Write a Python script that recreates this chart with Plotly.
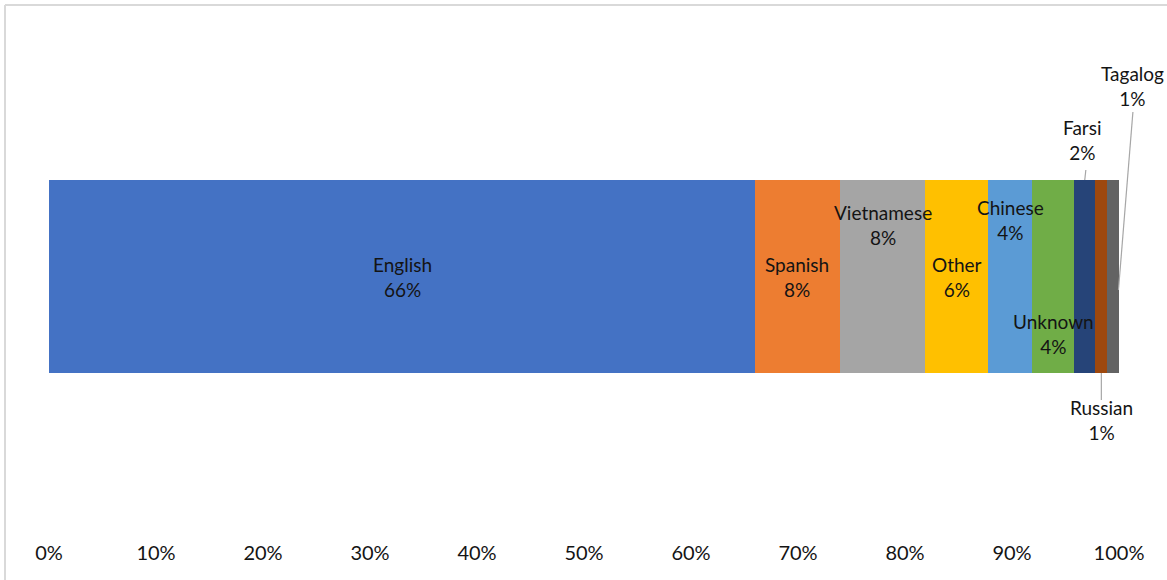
import plotly.graph_objects as go

languages = ["English", "Spanish", "Vietnamese", "Other", "Chinese", "Unknown", "Farsi", "Russian", "Tagalog"]
shares = [0.660, 0.079, 0.080, 0.059, 0.041, 0.039, 0.020, 0.011, 0.011]
pct_labels = ["66%", "8%", "8%", "6%", "4%", "4%", "2%", "1%", "1%"]
colors = ["#4472C4", "#ED7D31", "#A5A5A5", "#FFC000", "#5B9BD5",
          "#70AD47", "#264478", "#9E480E", "#636363"]

# vertical shift (px) of each label relative to the bar middle
label_shift = [0, 0, 52, 0, 57, -57, 0, 0, 0]

W, H = 1167, 580
ML, MR, MT, MB = 49, 48, 14, 41
plot_h = H - MT - MB
bar_w = 193 / plot_h
font = dict(family="Lato, Carlito, Calibri, sans-serif", size=19, color="#141414")
tick_font = dict(family="Lato, Carlito, Calibri, sans-serif", size=20, color="#141414")

fig = go.Figure()
for lang, val, col in zip(languages, shares, colors):
    fig.add_trace(go.Bar(
        x=[val], y=[0], orientation="h", name=lang,
        marker=dict(color=col, line=dict(width=0)),
        width=bar_w, hoverinfo="name+x",
    ))

annotations = []
shapes = []
start = 0
mids = []
for val in shares:
    mids.append(start + val / 2)
    start += val

px = 1 / plot_h
for i, lang in enumerate(languages):
    txt = lang + "<br>" + pct_labels[i]
    if lang in ("Farsi", "Russian", "Tagalog"):
        continue
    annotations.append(dict(x=mids[i], y=0, xref="x", yref="y", text=txt,
                            xanchor="center", yanchor="middle",
                            showarrow=False, yshift=label_shift[i], font=font))

top = 0.5 + bar_w / 2
bot = 0.5 - bar_w / 2
leader = dict(color="#A6A6A6", width=1.2)

# Farsi label above with leader
fi = languages.index("Farsi")
annotations.append(dict(x=mids[fi] - 0.002, y=top + 40 * px, xref="paper", yref="paper",
                        xanchor="center", yanchor="middle",
                        text="Farsi<br>" + pct_labels[fi], showarrow=False, font=font))
shapes.append(dict(type="line", xref="paper", yref="paper",
                   x0=mids[fi], x1=mids[fi] + 0.001, y0=top, y1=top + 10 * px, line=leader))
# Russian label below
ri = languages.index("Russian")
annotations.append(dict(x=mids[ri], y=bot - 47 * px, xref="paper", yref="paper",
                        xanchor="center", yanchor="middle",
                        text="Russian<br>" + pct_labels[ri], showarrow=False, font=font))
shapes.append(dict(type="line", xref="paper", yref="paper",
                   x0=mids[ri], x1=mids[ri], y0=bot, y1=bot - 27 * px, line=leader))
# Tagalog label top right
ti = languages.index("Tagalog")
annotations.append(dict(x=mids[ti] + 0.0185, y=top + 94 * px, xref="paper", yref="paper",
                        xanchor="center", yanchor="middle",
                        text="Tagalog<br>" + pct_labels[ti], showarrow=False, font=font))
shapes.append(dict(type="line", xref="paper", yref="paper",
                   x0=mids[ti] + 0.005, x1=mids[ti] + 0.0185,
                   y0=0.5 - 13.5 * px, y1=top + 68 * px, line=leader))

# chart frame (top and left edges visible)
fx = (5 - ML) / (W - ML - MR)
fy = (H - MB - 5) / plot_h
shapes.append(dict(type="line", xref="paper", yref="paper", x0=fx, x1=1.2, y0=fy, y1=fy,
                   line=dict(color="#D9D9D9", width=2)))
shapes.append(dict(type="line", xref="paper", yref="paper", x0=fx, x1=fx, y0=fy, y1=-0.2,
                   line=dict(color="#D9D9D9", width=2)))

fig.update_layout(
    width=W, height=H,
    margin=dict(l=ML, r=MR, t=MT, b=MB),
    barmode="stack",
    showlegend=False,
    plot_bgcolor="white", paper_bgcolor="white",
    font=font,
    annotations=annotations,
    shapes=shapes,
    xaxis=dict(range=[0, 1], tickformat=".0%", dtick=0.1, tick0=0,
               showgrid=False, zeroline=False, showline=False, ticks="",
               tickfont=tick_font, fixedrange=True),
    yaxis=dict(range=[-0.5, 0.5], visible=False, fixedrange=True),
)

fig.write_html("out.html", config={"displayModeBar": False},
               post_script="document.body.style.margin='0';")
